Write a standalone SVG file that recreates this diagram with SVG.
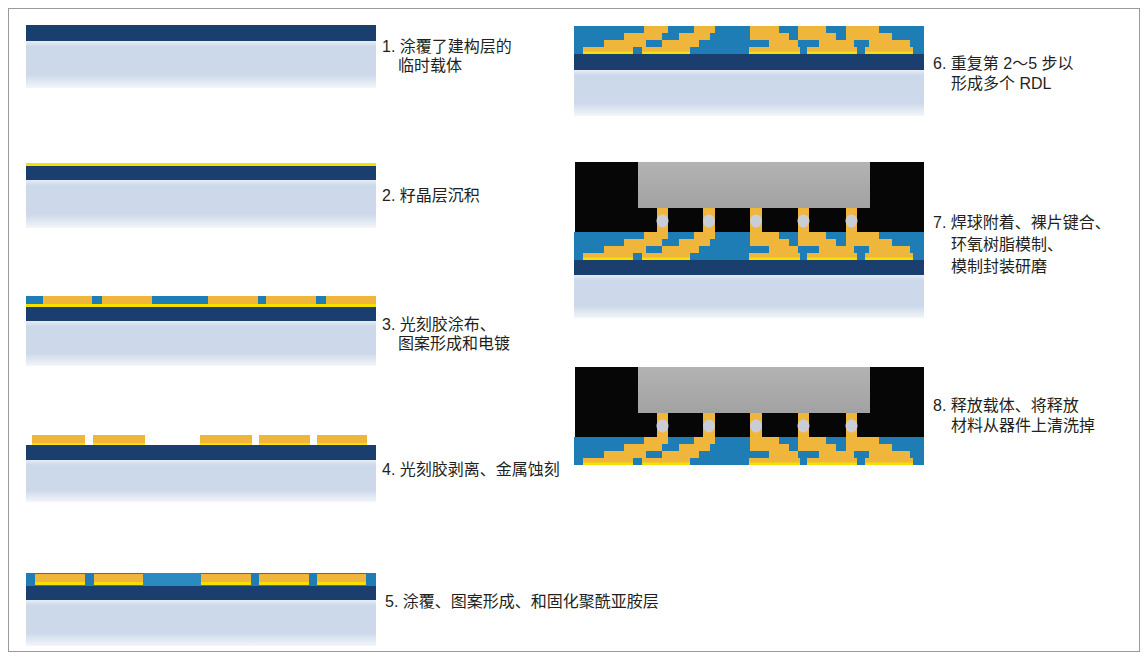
<svg xmlns="http://www.w3.org/2000/svg" width="1148" height="660" viewBox="0 0 1148 660">
  <defs>
    <linearGradient id="carrierFill" x1="0" y1="0" x2="0" y2="1">
      <stop offset="0" stop-color="#e6edf5"/>
      <stop offset="0.12" stop-color="#ccd9ea"/>
      <stop offset="0.72" stop-color="#cdd9ea"/>
      <stop offset="1" stop-color="#f3f6fa"/>
    </linearGradient>
    <linearGradient id="dieFill" x1="0" y1="0" x2="0" y2="1">
      <stop offset="0" stop-color="#b3b3b3"/>
      <stop offset="1" stop-color="#a2a2a2"/>
    </linearGradient>
    <style>
      .navy{fill:#1a3f6f}
      .carrier{fill:url(#carrierFill)}
      .pi{fill:#1f7db6}
      .pi2{fill:#2b8bc1}
      .cu{fill:#f0b63c}
      .seed{fill:#f6e000}
      .mold{fill:#060606}
      .die{fill:url(#dieFill)}
      .ball{fill:#c9ced6}
      .lbl{font-family:"Liberation Sans","Noto Sans CJK SC",sans-serif;font-size:16px;fill:#231f20}
    </style>

    <!-- polyimide layer with stepped redistribution traces, local origin at layer top-left -->
    <g id="rdl">
      <rect class="pi" x="0" y="0" width="350" height="28"/>
      <!-- fan-in traces rising to the right -->
      <rect class="cu" x="9" y="21" width="50" height="7"/>
      <rect class="cu" x="30" y="14" width="42" height="7"/>
      <rect class="cu" x="50" y="7" width="38" height="7"/>
      <rect class="cu" x="70" y="0" width="24" height="7"/>
      <rect class="cu" x="68" y="21" width="48" height="7"/>
      <rect class="cu" x="88" y="14" width="37" height="7"/>
      <rect class="cu" x="105" y="7" width="31" height="7"/>
      <rect class="cu" x="120" y="0" width="21" height="7"/>
      <!-- fan-out traces stepping down to the right -->
      <rect class="cu" x="176" y="0" width="29" height="7"/>
      <rect class="cu" x="176" y="7" width="39" height="7"/>
      <rect class="cu" x="195" y="14" width="29" height="7"/>
      <rect class="cu" x="175" y="21" width="51" height="7"/>
      <rect class="cu" x="224" y="0" width="28" height="7"/>
      <rect class="cu" x="224" y="7" width="38" height="7"/>
      <rect class="cu" x="245" y="14" width="35" height="7"/>
      <rect class="cu" x="233" y="21" width="50" height="7"/>
      <rect class="cu" x="272" y="0" width="33" height="7"/>
      <rect class="cu" x="272" y="7" width="46" height="7"/>
      <rect class="cu" x="295" y="14" width="41" height="7"/>
      <rect class="cu" x="291" y="21" width="48" height="7"/>
      <!-- seed layer under bottom pads -->
      <rect class="seed" x="9" y="25.5" width="50" height="2.5"/>
      <rect class="seed" x="68" y="25.5" width="48" height="2.5"/>
      <rect class="seed" x="175" y="25.5" width="51" height="2.5"/>
      <rect class="seed" x="233" y="25.5" width="50" height="2.5"/>
      <rect class="seed" x="291" y="25.5" width="48" height="2.5"/>
    </g>

    <!-- molded package: mold compound, die, solder bumps, RDL stack -->
    <g id="pkg">
      <rect class="mold" x="1" y="0" width="349" height="70"/>
      <rect class="die" x="64" y="0" width="232" height="46"/>
      <rect class="cu" x="83" y="46" width="11" height="24"/>
      <rect class="cu" x="129" y="46" width="12" height="24"/>
      <rect class="cu" x="176" y="46" width="12" height="24"/>
      <rect class="cu" x="224" y="46" width="11" height="24"/>
      <rect class="cu" x="272" y="46" width="11" height="24"/>
      <ellipse class="ball" cx="88.5" cy="59" rx="6" ry="6.5"/>
      <ellipse class="ball" cx="135" cy="59" rx="6" ry="6.5"/>
      <ellipse class="ball" cx="182" cy="59" rx="6" ry="6.5"/>
      <ellipse class="ball" cx="229.5" cy="59" rx="6" ry="6.5"/>
      <ellipse class="ball" cx="277.5" cy="59" rx="6" ry="6.5"/>
      <use href="#rdl" x="0" y="70"/>
    </g>
  </defs>

  <rect x="0" y="0" width="1148" height="660" fill="#ffffff"/>
  <rect x="8.5" y="8.5" width="1131" height="643" fill="none" stroke="#9a9a9a" stroke-width="1"/>

  <!-- 1: carrier with build-up layer -->
  <g id="step1">
    <rect class="navy" x="26" y="25" width="350" height="16"/>
    <rect class="carrier" x="26" y="41" width="350" height="47"/>
    <text class="lbl" x="382" y="52">1. 涂覆了建构层的</text>
    <text class="lbl" x="398" y="71">临时载体</text>
  </g>

  <!-- 2: seed layer -->
  <g id="step2">
    <rect class="seed" x="26" y="163" width="350" height="3"/>
    <rect class="navy" x="26" y="166" width="350" height="14"/>
    <rect class="carrier" x="26" y="180" width="350" height="48"/>
    <text class="lbl" x="382" y="201">2. 籽晶层沉积</text>
  </g>

  <!-- 3: resist patterning and plating -->
  <g id="step3">
    <rect class="pi" x="26" y="296" width="350" height="8"/>
    <rect class="cu" x="43" y="296" width="49" height="8"/>
    <rect class="cu" x="102" y="296" width="50" height="8"/>
    <rect class="cu" x="208" y="296" width="50" height="8"/>
    <rect class="cu" x="266" y="296" width="50" height="8"/>
    <rect class="cu" x="326" y="296" width="50" height="8"/>
    <rect class="seed" x="26" y="304" width="350" height="3"/>
    <rect class="navy" x="26" y="307" width="350" height="14"/>
    <rect class="carrier" x="26" y="321" width="350" height="45"/>
    <text class="lbl" x="382" y="330">3. 光刻胶涂布、</text>
    <text class="lbl" x="398" y="349">图案形成和电镀</text>
  </g>

  <!-- 4: resist strip and seed etch -->
  <g id="step4">
    <rect class="cu" x="32" y="435" width="53" height="8"/>
    <rect class="cu" x="93" y="435" width="52" height="8"/>
    <rect class="cu" x="200" y="435" width="52" height="8"/>
    <rect class="cu" x="259" y="435" width="51" height="8"/>
    <rect class="cu" x="317" y="435" width="50" height="8"/>
    <rect class="seed" x="32" y="443" width="53" height="2"/>
    <rect class="seed" x="93" y="443" width="52" height="2"/>
    <rect class="seed" x="200" y="443" width="52" height="2"/>
    <rect class="seed" x="259" y="443" width="51" height="2"/>
    <rect class="seed" x="317" y="443" width="50" height="2"/>
    <rect class="navy" x="26" y="445" width="350" height="15"/>
    <rect class="carrier" x="26" y="460" width="350" height="42"/>
    <text class="lbl" x="382" y="475">4. 光刻胶剥离、金属蚀刻</text>
  </g>

  <!-- 5: polyimide coat, pattern and cure -->
  <g id="step5">
    <rect class="pi" x="26" y="573" width="350" height="13"/>
    <rect class="pi2" x="143" y="573" width="58" height="13"/>
    <rect class="cu" x="35" y="574" width="50" height="8"/>
    <rect class="cu" x="94" y="574" width="49" height="8"/>
    <rect class="cu" x="201" y="574" width="50" height="8"/>
    <rect class="cu" x="259" y="574" width="50" height="8"/>
    <rect class="cu" x="317" y="574" width="49" height="8"/>
    <rect class="seed" x="35" y="582" width="50" height="3"/>
    <rect class="seed" x="94" y="582" width="49" height="3"/>
    <rect class="seed" x="201" y="582" width="50" height="3"/>
    <rect class="seed" x="259" y="582" width="50" height="3"/>
    <rect class="seed" x="317" y="582" width="49" height="3"/>
    <rect class="navy" x="26" y="586" width="350" height="14"/>
    <rect class="carrier" x="26" y="600" width="350" height="46"/>
    <text class="lbl" x="385" y="607">5. 涂覆、图案形成、和固化聚酰亚胺层</text>
  </g>

  <!-- 6: repeated RDL stack -->
  <g id="step6">
    <use href="#rdl" x="574" y="26"/>
    <rect class="navy" x="574" y="54" width="350" height="16"/>
    <rect class="carrier" x="574" y="70" width="350" height="46"/>
    <text class="lbl" x="933" y="69">6. 重复第 2～5 步以</text>
    <text class="lbl" x="951" y="89">形成多个 RDL</text>
  </g>

  <!-- 7: bumping, die attach, molding and grinding -->
  <g id="step7">
    <use href="#pkg" x="574" y="162"/>
    <rect class="navy" x="574" y="260" width="350" height="15"/>
    <rect class="carrier" x="574" y="275" width="350" height="43"/>
    <text class="lbl" x="933" y="228">7. 焊球附着、裸片键合、</text>
    <text class="lbl" x="951" y="250">环氧树脂模制、</text>
    <text class="lbl" x="951" y="272">模制封装研磨</text>
  </g>

  <!-- 8: carrier release and clean -->
  <g id="step8">
    <use href="#pkg" x="574" y="367"/>
    <text class="lbl" x="933" y="411">8. 释放载体、将释放</text>
    <text class="lbl" x="951" y="431">材料从器件上清洗掉</text>
  </g>
</svg>
